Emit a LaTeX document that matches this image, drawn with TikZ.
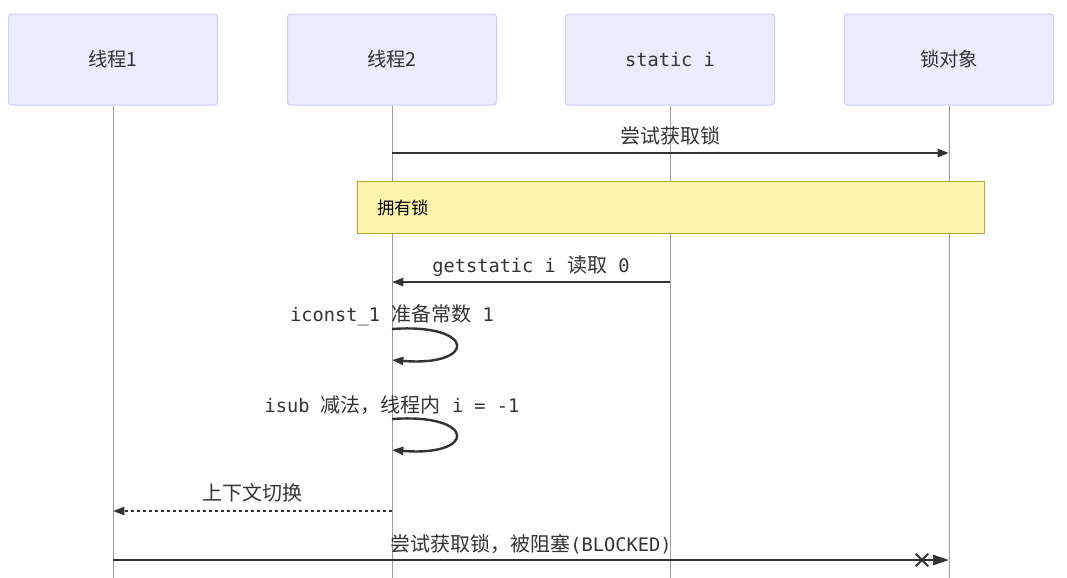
\documentclass[tikz,border=0pt]{standalone}
\usepackage{fontspec}
\setmainfont{Noto Sans CJK SC}
\newfontfamily\cjk{Noto Sans CJK SC}
\newfontfamily\mono{DejaVu Sans Mono}
\usetikzlibrary{arrows.meta,shapes.misc}
\definecolor{actfill}{HTML}{ECECFF}
\definecolor{actline}{HTML}{CCCCFF}
\definecolor{notefill}{HTML}{FFF5AD}
\definecolor{noteline}{HTML}{AAAA33}
\definecolor{ink}{HTML}{333333}
\definecolor{life}{HTML}{999999}
\newcommand{\mt}[1]{{\mono\fontsize{14}{17}\selectfont #1}}
\newcommand{\ct}[1]{{\cjk\fontsize{15}{18}\selectfont #1}}
\begin{document}
\begin{tikzpicture}[x=0.75pt,y=-0.75pt,
  actor/.style={draw=actline, fill=actfill, line width=0.75pt, rounded corners=2.25pt,
    minimum width=156.75pt, minimum height=68.25pt, inner sep=0pt, text=ink,
    font=\fontsize{14.5}{17}\selectfont},
  lifeline/.style={draw=life, line width=0.75pt},
  msg/.style={draw=ink, line width=1.8pt, -{Triangle[length=8.5pt,width=6pt]}},
  msglbl/.style={text=ink, inner sep=0pt, anchor=base},
  notebox/.style={draw=noteline, fill=notefill, line width=0.75pt},
  notetext/.style={text=black, inner sep=0pt, anchor=west, font=\fontsize{13}{15}\selectfont}
]
\useasboundingbox (0,0) rectangle (1067,578);
% actors
\node[actor] (a1) at (113,59.5) {线程1};
\node[actor] (a2) at (392,59.5) {线程2};
\node[actor] (a3) at (670,59.5) {\mt{static i}};
\node[actor] (a4) at (949,59.5) {锁对象};
% lifelines
\coordinate (b1) at (113,578);
\coordinate (b2) at (392,578);
\coordinate (b3) at (670,578);
\coordinate (b4) at (949,578);
\draw[lifeline] (a1.south) -- (b1);
\draw[lifeline] (a2.south) -- (b2);
\draw[lifeline] (a3.south) -- (b3);
\draw[lifeline] (a4.south) -- (b4);
% message 1
\coordinate (m1s) at (392,153);
\coordinate (m1e) at (949,153);
\draw[msg] (m1s) -- (m1e);
\node[msglbl] (l1) at (670.5,143) {\ct{尝试获取锁}};
% note
\node[notebox, minimum width=470.25pt, minimum height=39pt, inner sep=0pt] (note) at (670.5,207) {};
\node[notetext] (nt) at (377,208) {拥有锁};
% message 2
\coordinate (m2s) at (670,282);
\coordinate (m2e) at (392,282);
\draw[msg] (m2s) -- (m2e);
\node[msglbl] (l2) at (531,272) {\mt{getstatic i }\ct{读取}\mt{ 0}};
% self loop 1
\coordinate (s1s) at (392,329);
\coordinate (s1e) at (392,360);
\draw[msg] (s1s) .. controls (477,323) and (477,367) .. (s1e);
\node[msglbl] (l3) at (392,321) {\mt{iconst\_1 }\ct{准备常数}\mt{ 1}};
% self loop 2
\coordinate (s2s) at (392,419);
\coordinate (s2e) at (392,450);
\draw[msg] (s2s) .. controls (477,413) and (477,457) .. (s2e);
\node[msglbl] (l4) at (392,412) {\mt{isub }\ct{减法，线程内}\mt{ i = -1}};
% message 3 dashed
\coordinate (m3s) at (392,511);
\coordinate (m3e) at (113,511);
\draw[msg, line width=1.5pt, dash pattern=on 2.25pt off 2.25pt] (m3s) -- (m3e);
\node[msglbl] (l5) at (252.5,500) {\ct{上下文切换}};
% message 4 blocked
\coordinate (m4s) at (113,560);
\coordinate (m4e) at (949,560);
\coordinate (cx) at (922,560);
\draw[draw=ink, line width=1.8pt, -{Triangle[length=12pt,width=7.5pt]}] (m4s) -- (m4e);
\node[draw=ink, cross out, line width=1.5pt, minimum size=8pt, inner sep=0pt] (xm) at (cx) {};
\node[msglbl] (l6) at (531,551) {\ct{尝试获取锁，被阻塞}\mt{(BLOCKED)}};
\end{tikzpicture}
\end{document}
